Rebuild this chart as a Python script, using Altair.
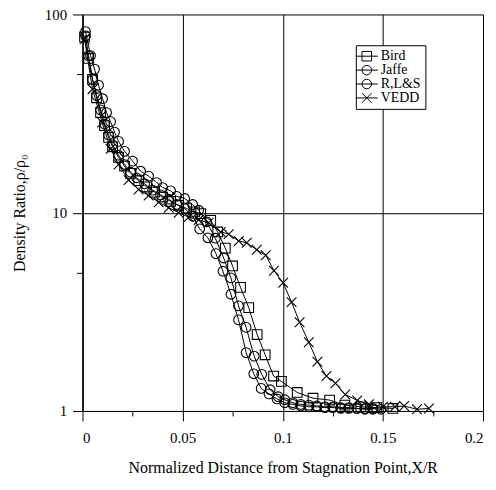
import altair as alt
import pandas as pd

series_names = ["Bird", "Jaffe", "R,L&S", "VEDD"]

bird_x = [0.001, 0.003, 0.005, 0.007, 0.009, 0.011, 0.013, 0.015, 0.018, 0.021, 0.024, 0.028,
          0.032, 0.036, 0.040, 0.044, 0.048, 0.052, 0.056, 0.059, 0.064, 0.0675, 0.0713, 0.0749,
          0.0789, 0.0830, 0.0872, 0.0912, 0.0954, 0.0993, 0.1072, 0.1151, 0.1234, 0.131, 0.139,
          0.147, 0.155]
bird_y = [77, 60, 47, 38, 32, 27.5, 24, 21.5, 19.0, 17.2, 15.8, 14.5,
          13.5, 12.7, 12.0, 11.4, 10.9, 10.5, 10.1, 9.9, 9.15, 8.0, 6.63, 5.39,
          4.20, 3.32, 2.43, 1.92, 1.50, 1.41, 1.24, 1.16, 1.135, 1.07, 1.05,
          1.04, 1.03]

jaffe_x = [0.0015, 0.003, 0.005, 0.007, 0.009, 0.011, 0.013, 0.015, 0.018, 0.021, 0.024, 0.027,
           0.031, 0.035, 0.039, 0.043, 0.047, 0.051, 0.055, 0.0585, 0.0626, 0.0666, 0.0701,
           0.0741, 0.0779, 0.0817, 0.0855, 0.0892, 0.0931, 0.0971, 0.101, 0.105, 0.109, 0.113,
           0.117, 0.121, 0.125, 0.129, 0.133, 0.137, 0.141, 0.145]
jaffe_y = [78, 62, 47, 39, 33, 28, 24.7, 22, 19.5, 17.5, 16.0, 15.0,
           14.0, 13.0, 12.3, 11.7, 11.0, 10.5, 9.6, 8.29, 7.47, 6.22, 5.07,
           3.88, 2.88, 1.97, 1.54, 1.30, 1.22, 1.15, 1.10, 1.08, 1.06, 1.05,
           1.05, 1.04, 1.04, 1.03, 1.03, 1.03, 1.02, 1.02]

rls_x = [0.0015, 0.004, 0.006, 0.008, 0.010, 0.012, 0.014, 0.016, 0.018, 0.021, 0.025, 0.029,
         0.033, 0.037, 0.040, 0.044, 0.047, 0.051, 0.055, 0.058, 0.062, 0.0663, 0.0705, 0.0741,
         0.0779, 0.0817, 0.0857, 0.0895, 0.0937, 0.0977, 0.101, 0.105, 0.109, 0.113, 0.117,
         0.121, 0.125, 0.129, 0.133, 0.137, 0.141, 0.145, 0.149]
rls_y = [82, 62, 53, 44, 37.6, 32, 28.8, 25.5, 22.9, 20.4, 18.2, 16.2,
         15.3, 14.2, 13.4, 12.9, 12.1, 11.8, 11.0, 10.3, 9.0, 7.44, 5.91, 4.69,
         3.39, 2.64, 1.89, 1.53, 1.28, 1.18, 1.14, 1.10, 1.08, 1.07, 1.06,
         1.05, 1.05, 1.04, 1.04, 1.03, 1.03, 1.03, 1.02]

vedd_x = [0.001, 0.005, 0.0098, 0.014, 0.018, 0.023, 0.028, 0.033, 0.038, 0.043, 0.048, 0.053,
          0.058, 0.063, 0.069, 0.073, 0.078, 0.082, 0.087, 0.0915, 0.0956, 0.1002, 0.1044,
          0.1084, 0.113, 0.1173, 0.1218, 0.1263, 0.1312, 0.1372, 0.143, 0.15, 0.156, 0.1606,
          0.167, 0.173]
vedd_y = [75, 42, 28.5, 21, 17.5, 14.6, 13.1, 12.2, 11.3, 10.6, 10.0, 9.5,
          9.2, 8.9, 8.0, 7.8, 7.2, 7.05, 6.5, 6.1, 5.1, 4.43, 3.54,
          2.8, 2.22, 1.77, 1.5, 1.38, 1.21, 1.13, 1.08, 1.05, 1.05, 1.06,
          1.02, 1.03]

x_ticks = [0, 0.025, 0.05, 0.075, 0.1, 0.125, 0.15, 0.175, 0.2]
y_ticks = [1, 5, 10, 50, 100]

rows = []
for name, xs, ys in zip(series_names, [bird_x, jaffe_x, rls_x, vedd_x],
                        [bird_y, jaffe_y, rls_y, vedd_y]):
    for xv, yv in zip(xs, ys):
        rows.append({"series": name, "x": xv, "y": yv})
df = pd.DataFrame(rows)

FONT = "Liberation Serif"

marker_paths = ["square", "circle", "circle", "M-1,-1L1,1M1,-1L-1,1"]
# legend symbols: a short line through the marker (unit = sqrt(size)/2 px)
legend_paths = [
    "M-1.85,0H1.85M-0.8,-0.8H0.8V0.8H-0.8Z",
    "M-1.85,0H1.85M-0.8,0A0.8,0.8 0 1,0 0.8,0A0.8,0.8 0 1,0 -0.8,0",
    "M-1.85,0H1.85M-0.8,0A0.8,0.8 0 1,0 0.8,0A0.8,0.8 0 1,0 -0.8,0",
    "M-1.85,0H1.85M-0.8,-0.8L0.8,0.8M0.8,-0.8L-0.8,0.8",
]

major_x = "round(datum.value*1000) % 50 == 0"

x_enc = alt.X(
    "x:Q",
    scale=alt.Scale(domain=[0, 0.2], nice=False, zero=False),
    axis=alt.Axis(
        values=x_ticks,
        labelExpr="(" + major_x + ") ? format(datum.value, '~g') : ''",
        title="Normalized Distance from Stagnation Point,X/R",
        tickSize={"condition": {"test": major_x, "value": 10}, "value": 5},
        grid=True,
        gridColor="black",
        gridWidth=1,
        gridOpacity={"condition": {"test": major_x, "value": 1}, "value": 0},
        labelPadding=10,
        titlePadding=14,
    ),
)
y_enc = alt.Y(
    "y:Q",
    scale=alt.Scale(type="log", domain=[1, 100], nice=False),
    axis=alt.Axis(
        values=y_ticks,
        labelExpr="(datum.value == 5 || datum.value == 50) ? '' : format(datum.value, 'd')",
        title="Density Ratio,ρ/ρ₀",
        tickSize={"condition": {"test": "datum.value == 5 || datum.value == 50", "value": 6}, "value": 10},
        grid=True,
        gridColor="black",
        gridWidth=1,
        gridOpacity={"condition": {"test": "datum.value == 10", "value": 1}, "value": 0},
        labelPadding=6,
        titlePadding=17,
    ),
)

base = alt.Chart(df).encode(x=x_enc, y=y_enc)

lines = base.mark_line(color="black", strokeWidth=1).encode(detail="series:N")

points = base.mark_point(filled=False, color="black", size=95, strokeWidth=1.1, opacity=1).encode(
    shape=alt.Shape("series:N", scale=alt.Scale(domain=series_names, range=marker_paths), legend=None)
)

legend_layer = base.mark_point(filled=False, color="black", size=144, strokeWidth=1, opacity=0).encode(
    shape=alt.Shape(
        "series:N",
        scale=alt.Scale(domain=series_names, range=legend_paths),
        legend=alt.Legend(
            title=None,
            orient="none",
            legendX=275,
            legendY=31,
            strokeColor="black",
            fillColor="white",
            padding=4,
            offset=0,
            labelFont=FONT,
            labelFontSize=14,
            labelColor="black",
            labelOffset=7,
            symbolSize=144,
            symbolStrokeWidth=1,
            symbolStrokeColor="black",
            rowPadding=0,
        ),
    )
)

chart = (
    alt.layer(lines, points, legend_layer)
    .resolve_scale(shape="independent")
    .properties(
        width=403,
        height=399,
        padding={"left": 75, "top": 5, "right": 5, "bottom": 75},
        autosize=alt.AutoSizeParams(type="none"),
    )
    .configure_view(stroke="black", strokeWidth=1)
    .configure_axis(
        domainColor="black",
        tickColor="black",
        tickWidth=1,
        labelFont=FONT,
        labelFontSize=15,
        labelColor="black",
        titleFont=FONT,
        titleFontSize=16,
        titleFontWeight="normal",
        titleColor="black",
    )
)

chart.save("out.html", embed_options={"renderer": "svg", "actions": False})
